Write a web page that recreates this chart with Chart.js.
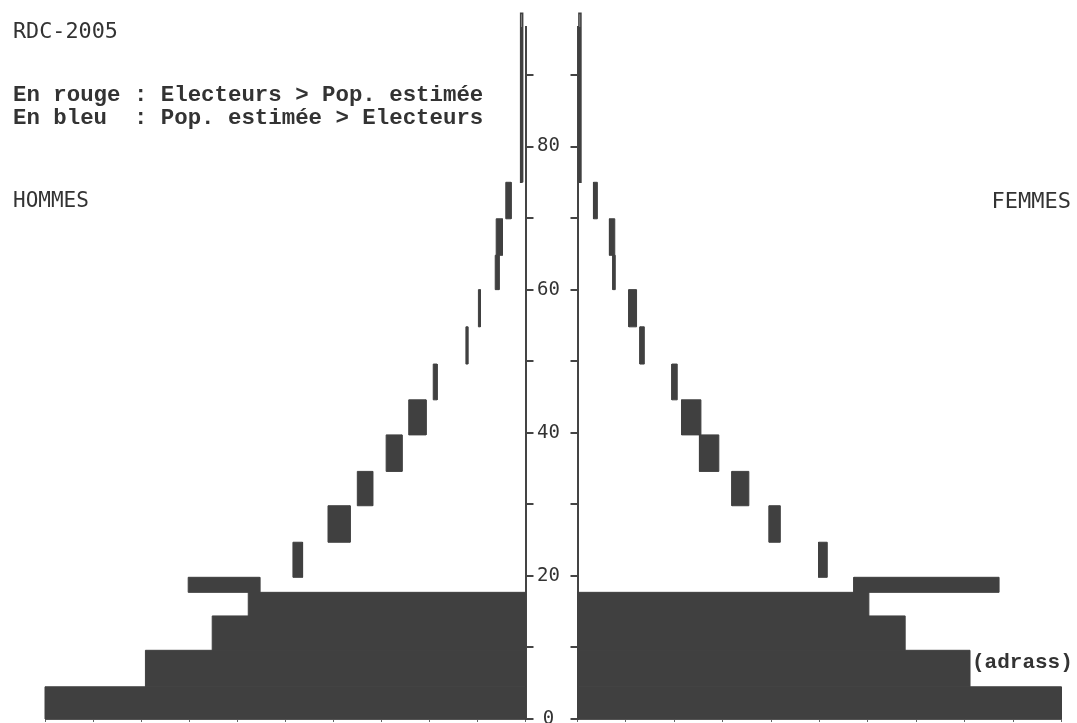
<!DOCTYPE html>
<html>
<head>
<meta charset="utf-8">
<script src="https://cdn.jsdelivr.net/npm/chart.js@4.4.0/dist/chart.umd.min.js"></script>
<style>
  html, body { margin:0; padding:0; background:#fff; overflow:hidden; width:1077px; height:723px; }
  canvas { position:absolute; top:0; }
  #hommes { left:0; }
  #femmes { left:560px; }
  .txt { position:absolute; color:#333; white-space:pre; line-height:1; }
  .sans { font-family:"DejaVu Sans Mono", monospace; }
  .mono { font-family:"Liberation Mono", monospace; font-weight:bold; }
</style>
</head>
<body>
<canvas id="hommes" width="577" height="735"></canvas>
<canvas id="femmes" width="517" height="735"></canvas>

<div class="txt sans" style="left:13px;top:20px;font-size:21.8px">RDC-2005</div>
<div class="txt mono" style="left:13px;top:84px;font-size:22.4px">En rouge : Electeurs &gt; Pop. estimée</div>
<div class="txt mono" style="left:13px;top:107px;font-size:22.4px">En bleu  : Pop. estimée &gt; Electeurs</div>
<div class="txt sans" style="left:13px;top:190px;font-size:21px">HOMMES</div>
<div class="txt sans" style="right:6px;top:190px;font-size:22px">FEMMES</div>
<div class="txt mono" style="left:972px;top:652px;font-size:21px">(adrass)</div>

<script>
// age bands (lower / upper edge of each bar)
const ageFrom = [0, 4.5, 9.6, 14.4, 17.7, 19.8, 24.7, 29.8, 34.6, 39.7, 44.6, 49.6, 54.8, 60.0, 64.8, 69.9, 75.0];
const ageTo   = [4.5, 9.6, 14.4, 17.7, 19.8, 24.7, 29.8, 34.6, 39.7, 44.6, 49.6, 54.8, 60.0, 64.8, 69.9, 75.0, 98.6];

// floating bars: from min to max (between voters and estimated pop.)
const hommesMin = [0, 0, 0, 0, 55.3, 46.4, 36.5, 31.8, 25.7, 20.7, 18.4, 12.0, 9.4, 5.5, 4.8, 3.0, 0.6];
const hommesMax = [100, 79.1, 65.2, 57.7, 70.2, 48.4, 41.1, 35.0, 29.0, 24.3, 19.2, 12.4, 9.8, 6.3, 6.1, 4.1, 1.0];
const femmesMin = [0, 0, 0, 0, 57.1, 49.8, 39.6, 31.9, 25.2, 21.5, 19.5, 12.9, 10.6, 7.3, 6.6, 3.3, 0.3];
const femmesMax = [100, 81.1, 67.7, 60.2, 87.1, 51.6, 41.9, 35.4, 29.2, 25.5, 20.6, 13.8, 12.2, 7.8, 7.7, 4.1, 0.7];

const ageMax = 96.7;
const ageStep = 10;
const ageLabels = [0, 20, 40, 60, 80];
const xMax = 100;

const barColor = '#404040';
const axisColor = '#444';

function blocks(mins, maxs){
  return ageFrom.map((a, i) => ({
    data: [
      {x: mins[i], y: a},
      {x: maxs[i], y: a},
      {x: maxs[i], y: ageTo[i]},
      {x: mins[i], y: ageTo[i]},
      {x: mins[i], y: a}
    ],
    showLine: true,
    fill: 'shape',
    backgroundColor: barColor,
    borderColor: barColor,
    // thin stroke hides seams between stacked blocks; the last band runs above the axis top
    borderWidth: ageTo[i] > ageMax ? 1.6 : 1,
    pointRadius: 0,
    pointHoverRadius: 0,
    clip: false
  }));
}

function makeChart(id, mins, maxs, left){
  return new Chart(document.getElementById(id), {
    type: 'scatter',
    data: { datasets: blocks(mins, maxs) },
    options: {
      responsive: false,
      animation: false,
      events: [],
      layout: { padding: left ? {left:45, right:0, top:27, bottom:12} : {left:0, right:15.5, top:27, bottom:12} },
      plugins: { legend: {display:false}, tooltip: {enabled:false} },
      scales: {
        x: {
          type: 'linear', min: 0, max: xMax, reverse: left, position: 'bottom',
          ticks: { display:false, stepSize: 10 },
          grid: { drawOnChartArea:false, drawTicks:true, tickLength:3, color:'#666' },
          border: { display:true, color:'#666', width:1 },
          afterFit(s){ s.height = 4; s.paddingLeft = 0; s.paddingRight = 0; }
        },
        y: {
          type: 'linear', min: 0, max: ageMax, position: left ? 'right' : 'left',
          ticks: {
            display: left,
            stepSize: ageStep,
            includeBounds: false,
            padding: 3.5,
            crossAlign: 'center',
            color: '#333',
            font: { family: 'DejaVu Sans Mono', size: 19 },
            callback: v => ageLabels.includes(v) ? String(v) : ''
          },
          grid: { drawOnChartArea:false, drawTicks:true, tickLength: left ? 8 : 7, color: axisColor, lineWidth: 2 },
          border: { display:true, color: axisColor, width: 2 },
          afterFit(s){ s.width = left ? 51.5 : 17.5; s.paddingTop = 0; s.paddingBottom = 0; }
        }
      }
    }
  });
}

makeChart('hommes', hommesMin, hommesMax, true);
makeChart('femmes', femmesMin, femmesMax, false);
</script>
</body>
</html>
